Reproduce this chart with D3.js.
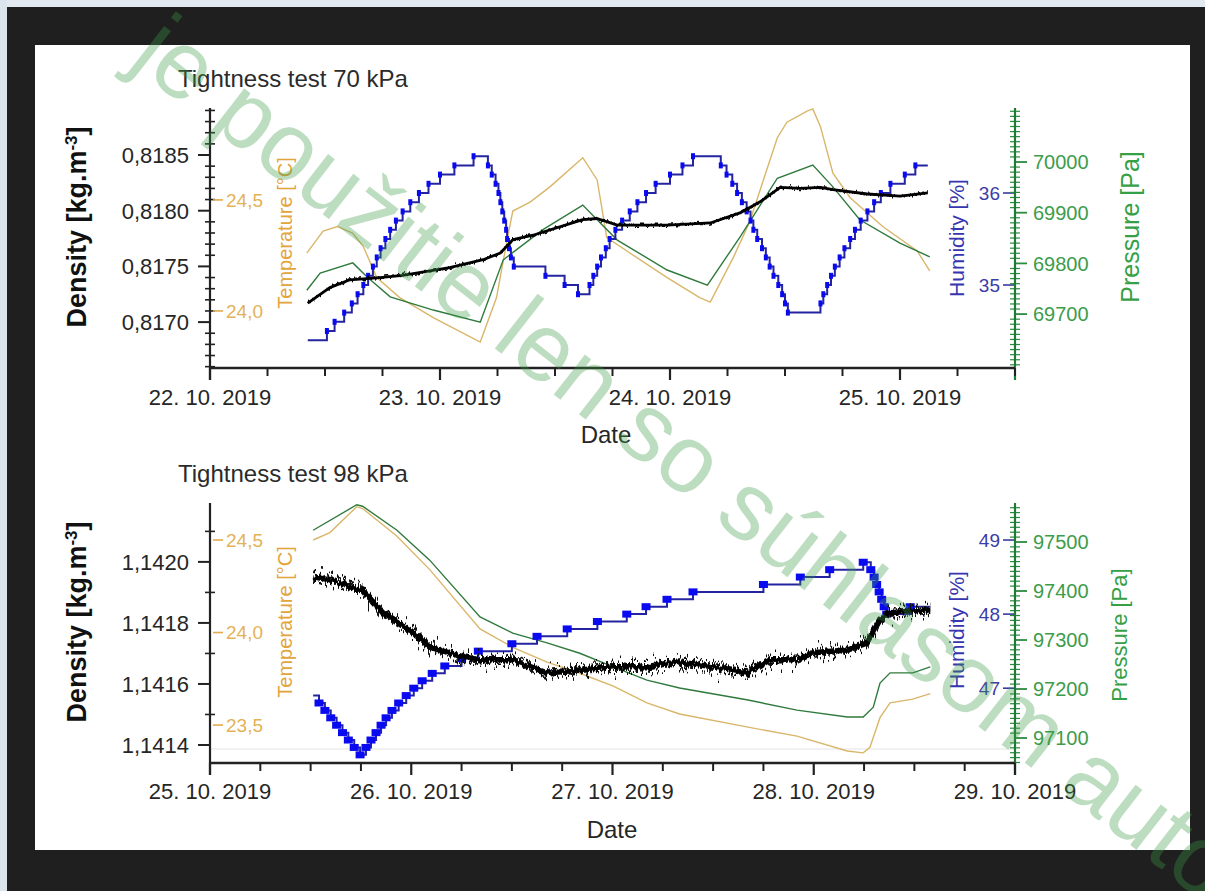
<!DOCTYPE html>
<html>
<head>
<meta charset="utf-8">
<script src="https://cdn.jsdelivr.net/npm/d3@7"></script>
<style>
  html, body { margin: 0; padding: 0; background: #1f1f1f; }
  svg { display: block; font-family: "Liberation Sans", Arial, sans-serif; }
</style>
</head>
<body>
<svg id="chart" width="1205" height="891"></svg>
<script>
// ---- Measurement data: [hours since start of test, value] ----
const start70 = new Date(2019, 9, 22);
const start98 = new Date(2019, 9, 25);

const density70 = [[10.2,0.81717],[12.5,0.81731],[14.6,0.81738],[17.7,0.81740],[20.1,0.81742],[25.0,0.81749],[28.5,0.81756],[30.3,0.81762],[31.6,0.81774],[33.7,0.81778],[38.9,0.81792],[40.4,0.81793],[42.5,0.81787],[47.7,0.81787],[52.2,0.81789],[55.3,0.81798],[57.4,0.81808],[59.5,0.81821],[61.6,0.81820],[63.7,0.81821],[65.0,0.81819],[68.6,0.81815],[72.0,0.81813],[74.9,0.81816]];

const temperature70 = [[10.1,24.26],[11.8,24.36],[13.3,24.38],[14.9,24.35],[16.0,24.29],[17.4,24.15],[19.8,24.06],[23.3,23.97],[26.4,23.90],[28.2,23.86],[29.9,24.06],[31.0,24.32],[31.6,24.45],[33.4,24.49],[35.5,24.56],[38.9,24.69],[40.4,24.59],[41.4,24.33],[43.5,24.27],[47.7,24.15],[51.1,24.06],[52.2,24.04],[54.6,24.24],[56.3,24.40],[59.2,24.78],[60.2,24.85],[62.3,24.90],[62.9,24.91],[63.7,24.83],[65.0,24.62],[66.8,24.51],[70.2,24.38],[73.8,24.27],[75.1,24.18]];

const pressure70 = [[10.1,69747],[11.5,69781],[14.9,69801],[16.4,69773],[18.8,69734],[23.3,69708],[28.2,69684],[30.6,69807],[34.7,69866],[38.9,69915],[40.7,69880],[42.5,69846],[47.7,69787],[51.9,69757],[55.3,69852],[59.2,69968],[62.9,69994],[65.0,69951],[67.8,69886],[72.0,69840],[75.1,69813]];

const humidity70 = [[10.2,34.4],[12.2,34.5],[13.0,34.6],[14.0,34.7],[14.8,34.8],[15.4,34.9],[16.0,35.0],[16.5,35.1],[17.0,35.2],[17.4,35.3],[17.8,35.4],[18.3,35.5],[18.8,35.6],[19.4,35.7],[20.1,35.8],[20.9,35.9],[21.8,36.0],[22.8,36.1],[24.0,36.2],[25.5,36.3],[27.5,36.4],[29.0,36.3],[29.4,36.2],[29.8,36.1],[30.1,36.0],[30.3,35.9],[30.5,35.8],[30.7,35.7],[30.9,35.6],[31.0,35.5],[31.2,35.4],[31.4,35.3],[31.7,35.2],[35.0,35.1],[37.0,35.0],[38.4,34.9],[39.6,35.0],[40.0,35.1],[40.4,35.2],[40.8,35.3],[41.3,35.4],[41.7,35.5],[42.3,35.6],[43.0,35.7],[43.8,35.8],[44.6,35.9],[45.5,36.0],[46.5,36.1],[48.0,36.2],[49.3,36.3],[50.4,36.4],[53.3,36.3],[53.9,36.2],[54.5,36.1],[55.0,36.0],[55.5,35.9],[56.0,35.8],[56.4,35.7],[56.7,35.6],[57.1,35.5],[57.6,35.4],[58.0,35.3],[58.4,35.2],[58.8,35.1],[59.3,35.0],[59.7,34.9],[60.0,34.8],[60.3,34.7],[63.7,34.8],[64.0,34.9],[64.4,35.0],[64.8,35.1],[65.2,35.2],[65.7,35.3],[66.2,35.4],[66.8,35.5],[67.3,35.6],[67.9,35.7],[68.6,35.8],[69.3,35.9],[70.0,36.0],[71.0,36.1],[72.5,36.2],[73.6,36.3],[74.9,36.3]];

const density98 = [[12.3,1.141951],[14.3,1.141941],[16.7,1.141918],[18.2,1.141908],[20.6,1.141833],[24.2,1.141767],[26.2,1.141721],[30.2,1.141689],[32.2,1.141679],[36.1,1.141679],[40.2,1.141636],[44.1,1.141646],[48.1,1.141656],[52.1,1.141656],[56.0,1.141672],[60.0,1.141656],[64.0,1.141636],[66.8,1.141679],[70.0,1.141679],[71.9,1.141702],[76.0,1.141711],[78.3,1.141734],[79.9,1.141810],[81.1,1.141833],[85.9,1.141843]];

const temperature98 = [[12.3,24.50],[14.3,24.54],[17.5,24.68],[18.2,24.67],[22.3,24.52],[26.2,24.34],[32.2,24.02],[36.1,23.92],[40.2,23.84],[44.1,23.78],[48.1,23.71],[52.1,23.62],[56.0,23.56],[64.0,23.49],[70.0,23.44],[76.0,23.36],[77.9,23.35],[78.7,23.38],[79.9,23.54],[81.1,23.62],[83.8,23.64],[85.9,23.67]];

const pressure98 = [[12.3,97524],[17.5,97576],[18.2,97573],[22.3,97524],[26.2,97463],[32.2,97347],[36.1,97314],[40.2,97294],[44.1,97273],[48.1,97245],[52.1,97218],[56.0,97202],[64.0,97178],[70.0,97157],[76.0,97143],[77.9,97143],[79.1,97163],[79.9,97212],[81.1,97233],[83.8,97233],[85.9,97245]];

const humidity98 = [[12.3,46.9],[13.0,46.8],[13.7,46.7],[14.4,46.6],[15.1,46.5],[15.8,46.4],[16.5,46.3],[17.2,46.2],[17.9,46.1],[18.6,46.2],[19.2,46.3],[19.8,46.4],[20.4,46.5],[21.0,46.6],[21.7,46.7],[22.5,46.8],[23.4,46.9],[24.3,47.0],[25.3,47.1],[26.5,47.2],[28.0,47.3],[30.0,47.4],[32.0,47.5],[36.0,47.6],[39.0,47.7],[42.6,47.8],[46.2,47.9],[49.7,48.0],[52.0,48.1],[54.5,48.2],[57.6,48.3],[66.0,48.4],[70.4,48.5],[73.9,48.6],[77.9,48.7],[78.8,48.6],[79.2,48.5],[79.5,48.4],[79.8,48.3],[80.1,48.2],[80.4,48.1],[80.7,48.0],[83.5,48.1],[85.9,48.1]];

// ---- Axis ticks ----
const densityTicks70 = [0.8170, 0.8175, 0.8180, 0.8185];
const tempTicks70 = [24.0, 24.5];
const humTicks70 = [35, 36];
const pressTicks70 = [69700, 69800, 69900, 70000];

const densityTicks98 = [1.1414, 1.1416, 1.1418, 1.1420];
const tempTicks98 = [23.5, 24.0, 24.5];
const humTicks98 = [47, 48, 49];
const pressTicks98 = [97100, 97200, 97300, 97400, 97500];

const titles = ["Tightness test 70 kPa", "Tightness test 98 kPa"];

// ---- Formatting (decimal comma) ----
const loc = d3.formatLocale({decimal: ",", thousands: "", grouping: [3], currency: ["", ""]});
const f4 = loc.format(".4f"), f1 = loc.format(".1f"), f0 = loc.format("d");
const dateFmt = d3.timeFormat("%d. %m. %Y");

const svg = d3.select("#chart");

// vertical-only jitter texture for the density traces (sensor noise look)
const defs = svg.append("defs");
function jitterFilter(id, freq, scale, seed) {
  const f = defs.append("filter").attr("id", id)
    .attr("color-interpolation-filters", "sRGB")
    .attr("x", "-2%").attr("y", "-60%").attr("width", "104%").attr("height", "220%");
  f.append("feTurbulence").attr("type", "fractalNoise").attr("baseFrequency", freq)
    .attr("numOctaves", 2).attr("seed", seed).attr("result", "n");
  // keep the horizontal channel neutral so only vertical displacement happens
  f.append("feColorMatrix").attr("in", "n").attr("type", "matrix")
    .attr("values", "0 0 0 0 0.5  0 1 0 0 0  0 0 0 0 0  0 0 0 0 1").attr("result", "m");
  f.append("feDisplacementMap").attr("in", "SourceGraphic").attr("in2", "m")
    .attr("scale", scale).attr("xChannelSelector", "R").attr("yChannelSelector", "G");
}
jitterFilter("jitterSoft", "0.5 0.02", 9, 3);
jitterFilter("jitterHard", "0.6 0.02", 40, 8);
jitterFilter("jitterHard2", "0.35 0.02", 28, 15);

// page frame
svg.append("rect").attr("width", 1205).attr("height", 891).attr("fill", "#1f1f1f");
svg.append("rect").attr("width", 1205).attr("height", 7).attr("fill", "#e3e9f1");
svg.append("rect").attr("width", 7).attr("height", 891).attr("fill", "#dbe3ed");
svg.append("rect").attr("x", 35).attr("y", 45).attr("width", 1155).attr("height", 805).attr("fill", "#ffffff");

const X0 = 210, X1 = 1015;

const panels = [
  {
    title: titles[0], start: start70, hours: 84, top: 108, bottom: 368,
    density: density70, dDomain: [0.816588, 0.818922], dTicks: densityTicks70, dMinor: 0.0001, dFmt: f4,
    temperature: temperature70, tDomain: [23.743, 24.914], tTicks: tempTicks70,
    humidity: humidity70, hDomain: [34.098, 36.924], hTicks: humTicks70,
    pressure: pressure70, pDomain: [69593.7, 70106.5], pTicks: pressTicks70,
    titleY: 87, tickY: 405, dateY: 443, dateX: 606, densityLabelY: 227, tempLabelY: 233, humLabelY: 238,
    pressLabelX: 1130, pressLabelY: 227, pressLabelSize: 25, noisy: false, markW: 4, markH: 6
  },
  {
    title: titles[1], start: start98, hours: 96, top: 503, bottom: 763,
    density: density98, dDomain: [1.141341, 1.142193], dTicks: densityTicks98, dMinor: 0.0001, dFmt: f4,
    temperature: temperature98, tDomain: [23.295, 24.70], tTicks: tempTicks98,
    humidity: humidity98, hDomain: [45.99, 49.5], hTicks: humTicks98,
    pressure: pressure98, pDomain: [97049, 97579.6], pTicks: pressTicks98,
    titleY: 482, tickY: 799, dateY: 838, dateX: 612, densityLabelY: 622, tempLabelY: 622, humLabelY: 630,
    pressLabelX: 1119, pressLabelY: 635, pressLabelSize: 22, noisy: true, markW: 9, markH: 7
  }
];

function minorValues(domain, step, majors) {
  const out = [];
  const k0 = Math.ceil(domain[0] / step - 1e-6), k1 = Math.floor(domain[1] / step + 1e-6);
  for (let k = k0; k <= k1; k++) {
    const v = +(k * step).toFixed(6);
    if (!majors.some(m => Math.abs(m - v) < step / 10)) out.push(v);
  }
  return out;
}

function drawPanel(p) {
  const g = svg.append("g");
  const end = d3.timeHour.offset(p.start, p.hours);
  const x = d3.scaleTime().domain([p.start, end]).range([X0, X1]);
  const yD = d3.scaleLinear().domain(p.dDomain).range([p.bottom, p.top]);
  const yT = d3.scaleLinear().domain(p.tDomain).range([p.bottom, p.top]);
  const yH = d3.scaleLinear().domain(p.hDomain).range([p.bottom, p.top]);
  const yP = d3.scaleLinear().domain(p.pDomain).range([p.bottom, p.top]);
  const at = h => d3.timeMinute.offset(p.start, Math.round(h * 60));
  const lineFor = (ys, curve) => d3.line().x(d => x(at(d[0]))).y(d => ys(d[1])).curve(curve || d3.curveLinear);

  if (p.noisy) {
    g.append("line").attr("x1", X0).attr("x2", X1).attr("y1", p.bottom - 14).attr("y2", p.bottom - 14)
      .attr("stroke", "#ececec").attr("stroke-width", 1.5);
  }

  // series
  g.append("path").datum(p.temperature).attr("d", lineFor(yT))
    .attr("fill", "none").attr("stroke", "#d9b66a").attr("stroke-width", 1.4);
  g.append("path").datum(p.pressure).attr("d", lineFor(yP))
    .attr("fill", "none").attr("stroke", "#2f7a3d").attr("stroke-width", 1.4);
  g.append("path").datum(p.humidity).attr("d", lineFor(yH, d3.curveStepAfter))
    .attr("fill", "none").attr("stroke", "#2424a0").attr("stroke-width", 2);
  g.selectAll(null).data(p.humidity.slice(1, -1)).join("rect")
    .attr("x", d => x(at(d[0])) - p.markW / 2)
    .attr("y", d => yH(d[1]) - p.markH / 2)
    .attr("width", p.markW).attr("height", p.markH)
    .attr("fill", "#0a0af0");

  const densPath = lineFor(yD)(p.density);
  if (p.noisy) {
    g.append("path").attr("d", densPath).attr("fill", "none").attr("stroke", "#111")
      .attr("stroke-width", 2.5).attr("filter", "url(#jitterHard)");
    g.append("path").attr("d", densPath).attr("fill", "none").attr("stroke", "#111")
      .attr("stroke-width", 2.5).attr("filter", "url(#jitterHard2)");
    g.append("path").attr("d", densPath).attr("fill", "none").attr("stroke", "#000")
      .attr("stroke-width", 5.5).attr("stroke-linejoin", "round").attr("filter", "url(#jitterSoft)");
  } else {
    g.append("path").attr("d", densPath).attr("fill", "none").attr("stroke", "#000")
      .attr("stroke-width", 2.8).attr("stroke-linejoin", "round");
    g.append("path").attr("d", densPath).attr("fill", "none").attr("stroke", "#000")
      .attr("stroke-width", 1.6).attr("filter", "url(#jitterSoft)");
  }

  // density axis (left)
  const ax = svg.append("g");
  ax.append("line").attr("x1", X0).attr("x2", X0).attr("y1", p.top).attr("y2", p.bottom + 12)
    .attr("stroke", "#222").attr("stroke-width", 2.2);
  ax.selectAll(null).data(p.dTicks).join("line")
    .attr("x1", X0 - 12).attr("x2", X0).attr("y1", d => yD(d)).attr("y2", d => yD(d))
    .attr("stroke", "#222").attr("stroke-width", 2);
  ax.selectAll(null).data(minorValues(p.dDomain, p.dMinor, p.dTicks)).join("line")
    .attr("x1", X0 - 5).attr("x2", X0 + 5).attr("y1", d => yD(d)).attr("y2", d => yD(d))
    .attr("stroke", "#222").attr("stroke-width", 1.6);
  ax.selectAll(null).data(p.dTicks).join("text")
    .attr("x", X0 - 21).attr("y", d => yD(d)).attr("dy", "0.36em")
    .attr("text-anchor", "end").attr("font-size", 22).attr("fill", "#262626").text(p.dFmt);

  // temperature axis (inner left)
  ax.selectAll(null).data(p.tTicks).join("line")
    .attr("x1", X0 + 3).attr("x2", X0 + 13).attr("y1", d => yT(d)).attr("y2", d => yT(d))
    .attr("stroke", "#e2ab4c").attr("stroke-width", 1.6);
  ax.selectAll(null).data(p.tTicks).join("text")
    .attr("x", X0 + 16).attr("y", d => yT(d)).attr("dy", "0.36em")
    .attr("font-size", 19).attr("fill", "#e3b258").text(f1);

  // humidity axis ticks (right, inner)
  ax.selectAll(null).data(p.hTicks).join("line")
    .attr("x1", X1 - 12).attr("x2", X1).attr("y1", d => yH(d)).attr("y2", d => yH(d))
    .attr("stroke", "#3a3aa2").attr("stroke-width", 1.6);
  ax.selectAll(null).data(p.hTicks).join("text")
    .attr("x", X1 - 15).attr("y", d => yH(d)).attr("dy", "0.36em")
    .attr("text-anchor", "end").attr("font-size", 19).attr("fill", "#3c3ca8").text(f0);

  // pressure axis (right)
  ax.selectAll(null).data(minorValues(p.pDomain, 10, p.pTicks)).join("line")
    .attr("x1", X1 - 5).attr("x2", X1 + 5).attr("y1", d => yP(d)).attr("y2", d => yP(d))
    .attr("stroke", "#2a8a3e").attr("stroke-width", 1.2);
  ax.selectAll(null).data(p.pTicks).join("line")
    .attr("x1", X1).attr("x2", X1 + 12).attr("y1", d => yP(d)).attr("y2", d => yP(d))
    .attr("stroke", "#2a8a3e").attr("stroke-width", 1.8);
  ax.append("line").attr("x1", X1).attr("x2", X1).attr("y1", p.top).attr("y2", p.bottom + 12)
    .attr("stroke", "#1f7a34").attr("stroke-width", 2.2);
  ax.selectAll(null).data(p.pTicks).join("text")
    .attr("x", X1 + 18).attr("y", d => yP(d)).attr("dy", "0.36em")
    .attr("font-size", 20).attr("fill", "#3c9c4a").text(f0);

  // time axis (bottom)
  ax.append("line").attr("x1", X0).attr("x2", X1).attr("y1", p.bottom).attr("y2", p.bottom)
    .attr("stroke", "#222").attr("stroke-width", 2.4);
  const days = d3.timeDay.range(p.start, d3.timeHour.offset(end, 1));
  const quarters = d3.timeHour.every(6).range(p.start, d3.timeHour.offset(end, 1))
    .filter(d => d.getHours() !== 0);
  ax.selectAll(null).data(quarters).join("line")
    .attr("x1", d => x(d)).attr("x2", d => x(d)).attr("y1", p.bottom).attr("y2", p.bottom + 8)
    .attr("stroke", "#222").attr("stroke-width", 2);
  ax.selectAll(null).data(days).join("line")
    .attr("x1", d => x(d)).attr("x2", d => x(d)).attr("y1", p.bottom).attr("y2", p.bottom + 12)
    .attr("stroke", "#222").attr("stroke-width", 2.2);
  ax.selectAll(null).data(days).join("text")
    .attr("x", d => x(d)).attr("y", p.tickY).attr("text-anchor", "middle")
    .attr("font-size", 22).attr("fill", "#262626").text(dateFmt);
  ax.append("text").attr("x", p.dateX).attr("y", p.dateY).attr("text-anchor", "middle")
    .attr("font-size", 24).attr("fill", "#262626").text("Date");

  // titles and axis names
  ax.append("text").attr("x", 178).attr("y", p.titleY).attr("font-size", 24)
    .attr("fill", "#2b2b2b").text(p.title);

  const dl = ax.append("text").attr("transform", `translate(77,${p.densityLabelY}) rotate(-90)`)
    .attr("text-anchor", "middle").attr("dy", "0.35em")
    .attr("font-size", 27).attr("font-weight", "bold").attr("fill", "#111");
  dl.append("tspan").text("Density [kg.m");
  dl.append("tspan").attr("baseline-shift", "super").attr("font-size", 17).text("-3");
  dl.append("tspan").text("]");

  ax.append("text").attr("transform", `translate(285,${p.tempLabelY}) rotate(-90)`)
    .attr("text-anchor", "middle").attr("dy", "0.35em")
    .attr("font-size", 20).attr("fill", "#e3a43c").text("Temperature [°C]");
  ax.append("text").attr("transform", `translate(957,${p.humLabelY}) rotate(-90)`)
    .attr("text-anchor", "middle").attr("dy", "0.35em")
    .attr("font-size", 21).attr("fill", "#3636b0").text("Humidity [%]");
  ax.append("text").attr("transform", `translate(${p.pressLabelX},${p.pressLabelY}) rotate(-90)`)
    .attr("text-anchor", "middle").attr("dy", "0.35em")
    .attr("font-size", p.pressLabelSize).attr("fill", "#35a045").text("Pressure [Pa]");
}

panels.forEach(drawPanel);

// diagonal ownership watermark across the page
svg.append("text")
  .attr("transform", "translate(128,62) rotate(38)")
  .attr("font-size", 96).attr("fill", "#3f9a45").attr("fill-opacity", 0.34)
  .text("je použitie len so súhlasom autora");
</script>
</body>
</html>
